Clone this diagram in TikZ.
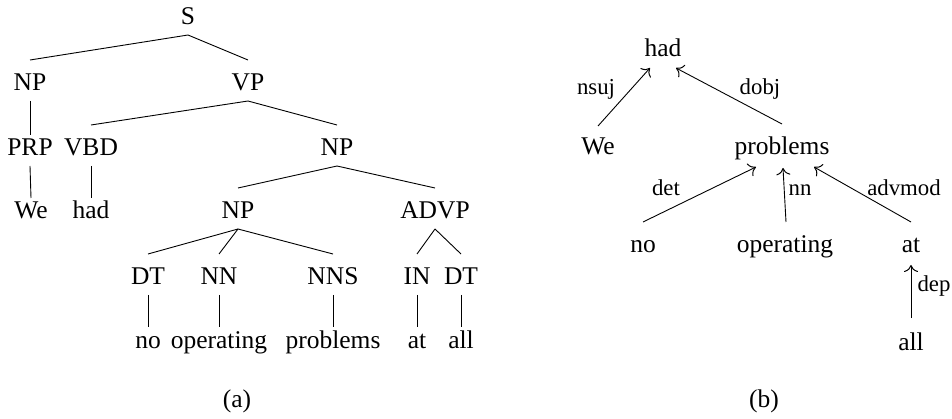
\documentclass[tikz,border=0pt]{standalone}
\usepackage{fontspec}
\setmainfont{Liberation Serif}
\usetikzlibrary{arrows.meta}
\begin{document}
\begin{tikzpicture}[x=1pt,y=-1pt,
  tn/.style={anchor=base,inner sep=0pt,font=\fontsize{25.5}{30}\selectfont},
  lbl/.style={anchor=base,inner sep=0pt,font=\fontsize{22.8}{27}\selectfont},
  ln/.style={line width=0.9pt},
  arr/.style={line width=0.9pt,-{Computer Modern Rightarrow[length=7pt,width=14pt,line width=1pt]}}]
\path[use as bounding box] (0,0) rectangle (952,419);
\newcommand\tedge[2]{\draw[ln] ([yshift=-10pt]#1.base) -- ([yshift=31pt]#2.base);}
\newcommand\vedge[2]{\draw[ln] ([yshift=-10pt]#1.base) -- ([yshift=21pt]#2.base);}
% ---- (a) constituency tree
\node[tn] (S) at (188,25) {S};
\node[tn] (np1) at (30,91) {NP};
\node[tn] (vp) at (248,91) {VP};
\node[tn] (prp) at (30,156) {PRP};
\node[tn] (vbd) at (91,156) {VBD};
\node[tn] (np2) at (337,156) {NP};
\node[tn] (we1) at (31,219) {We};
\node[tn] (had1) at (91,219) {had};
\node[tn] (np3) at (238,219) {NP};
\node[tn] (advp) at (435,219) {ADVP};
\node[tn] (dt1) at (148,285) {DT};
\node[tn] (nn) at (219,285) {NN};
\node[tn] (nns) at (333,285) {NNS};
\node[tn] (in) at (417,285) {IN};
\node[tn] (dt2) at (461,285) {DT};
\node[tn] (no1) at (148,348) {no};
\node[tn] (op1) at (219,348) {operating};
\node[tn] (pr1) at (333,348) {problems};
\node[tn] (at1) at (417,348) {at};
\node[tn] (all1) at (461,348) {all};
\node[tn] (capa) at (237,407) {(a)};
\tedge{S}{np1}
\tedge{S}{vp}
\vedge{np1}{prp}
\tedge{vp}{vbd}
\tedge{vp}{np2}
\vedge{prp}{we1}
\vedge{vbd}{had1}
\tedge{np2}{np3}
\tedge{np2}{advp}
\tedge{np3}{dt1}
\tedge{np3}{nn}
\tedge{np3}{nns}
\tedge{advp}{in}
\tedge{advp}{dt2}
\vedge{dt1}{no1}
\vedge{nn}{op1}
\vedge{nns}{pr1}
\vedge{in}{at1}
\vedge{dt2}{all1}
% ---- (b) dependency graph
\node[tn] (had) at (663,57) {had};
\node[tn] (we) at (598,155) {We};
\node[tn] (pr) at (782,155) {problems};
\node[tn] (no) at (643,253) {no};
\node[tn] (op) at (785,253) {operating};
\node[tn] (at) at (911,253) {at};
\node[tn] (all) at (911,350) {all};
\node[tn] (capb) at (764,407) {(b)};
\draw[arr] ([yshift=29pt]we.base) -- ([xshift=-13pt,yshift=-11pt]had.base);
\draw[arr] ([yshift=31pt]pr.base) -- ([xshift=13pt,yshift=-11pt]had.base);
\draw[arr] ([yshift=31pt]no.base) -- ([xshift=-26pt,yshift=-12pt]pr.base);
\draw[arr] ([xshift=1pt,yshift=31pt]op.base) -- ([xshift=1pt,yshift=-13pt]pr.base);
\draw[arr] ([yshift=31pt]at.base) -- ([xshift=32pt,yshift=-12pt]pr.base);
\draw[arr] ([yshift=32pt]all.base) -- ([yshift=-12pt]at.base);
\node[lbl] (l1) at (596,95) {nsuj};
\node[lbl] (l2) at (760,95) {dobj};
\node[lbl] (l3) at (666,196) {det};
\node[lbl] (l4) at (800,196) {nn};
\node[lbl] (l5) at (904,196) {advmod};
\node[lbl] (l6) at (934,292) {dep};
\end{tikzpicture}
\end{document}
